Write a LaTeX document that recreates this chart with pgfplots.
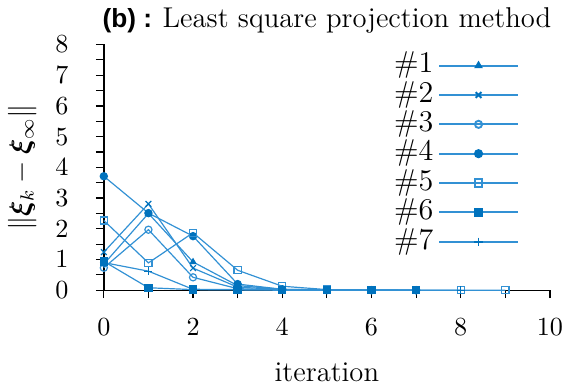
\documentclass[border=0pt]{standalone}
\usepackage{fontspec}
\usepackage{amsmath}
\usepackage{bm}
\usepackage{pgfplots}
\pgfplotsset{compat=1.18}
\newfontfamily\headsf{Liberation Sans}
\definecolor{markblue}{RGB}{0,114,189}
\definecolor{lineblue}{RGB}{50,145,212}

\begin{document}
\begin{tikzpicture}
\begin{axis}[
  scale only axis,
  width=187pt, height=103pt,
  xmin=0, xmax=10, ymin=0, ymax=8,
  axis lines=left,
  axis line style={-, black, line width=0.6pt},
  xtick={0,2,...,10}, minor x tick num=1,
  ytick={0,1,...,8}, minor y tick num=1,
  tick align=outside,
  major tick length=3.3pt, minor tick length=3.3pt,
  tick style={black, line width=0.5pt},
  tick label style={font=\fontsize{11}{13}\selectfont},
  yticklabel style={xshift=-8pt},
  xticklabel style={yshift=-5pt},
  xlabel={\large iteration},
  xlabel style={yshift=-4.5pt},
  ylabel={\large $\|\bm{\xi}_k-\bm{\xi}_\infty\|$},
  ylabel style={yshift=1pt},
  title={{\headsf\bfseries\fontsize{11}{13}\selectfont (b) :} {\large Least square projection method}},
  title style={yshift=-5pt},
  clip=false,
  every axis plot/.append style={color=lineblue, line width=0.5pt,
    mark options={draw=markblue, fill=markblue, solid}, mark size=1.5pt},
  legend style={draw=none, fill=none, at={(0.942,0.995)}, anchor=north east,
    font=\fontsize{12.6}{14}\selectfont, row sep=0pt, legend cell align=right,
    inner xsep=2pt,
    /tikz/every even column/.append style={column sep=4pt},
    nodes={text height=8.6pt, text depth=2.5pt, inner ysep=0.6pt}},
  legend plot pos=right,
  legend image code/.code={
    \draw[mark repeat=2, mark phase=2, line width=0.8pt]
      plot coordinates {(0cm,0cm) (0.58cm,0cm) (1.16cm,0cm)};},
]
\addplot[mark=triangle*, mark size=1.3pt] coordinates {
  (0,0.85) (1,2.50) (2,0.92) (3,0.15) (4,0.03) (5,0.01) (6,0) (7,0)};
\addlegendentry{\#1}
\addplot[mark=x, mark size=1.7pt] coordinates {
  (0,1.24) (1,2.81) (2,0.72) (3,0.10) (4,0.02) (5,0.01) (6,0) (7,0)};
\addlegendentry{\#2}
\addplot[mark=o, mark options={fill=none}] coordinates {
  (0,0.73) (1,1.97) (2,0.42) (3,0.05) (4,0.01) (5,0) (6,0) (7,0)};
\addlegendentry{\#3}
\addplot[mark=*] coordinates {
  (0,3.71) (1,2.51) (2,1.76) (3,0.20) (4,0.03) (5,0.01) (6,0) (7,0)};
\addlegendentry{\#4}
\addplot[mark=square, mark options={fill=none}] coordinates {
  (0,2.27) (1,0.89) (2,1.87) (3,0.65) (4,0.13) (5,0.02) (6,0.01) (7,0) (8,0) (9,0)};
\addlegendentry{\#5}
\addplot[mark=square*] coordinates {
  (0,0.94) (1,0.08) (2,0.02) (3,0.01) (4,0) (5,0) (6,0) (7,0)};
\addlegendentry{\#6}
\addplot[mark=+, mark size=1.7pt] coordinates {
  (0,0.90) (1,0.62) (2,0.03) (3,0.02) (4,0.01) (5,0) (6,0) (7,0) (8,0)};
\addlegendentry{\#7}
\end{axis}
\end{tikzpicture}
\end{document}
